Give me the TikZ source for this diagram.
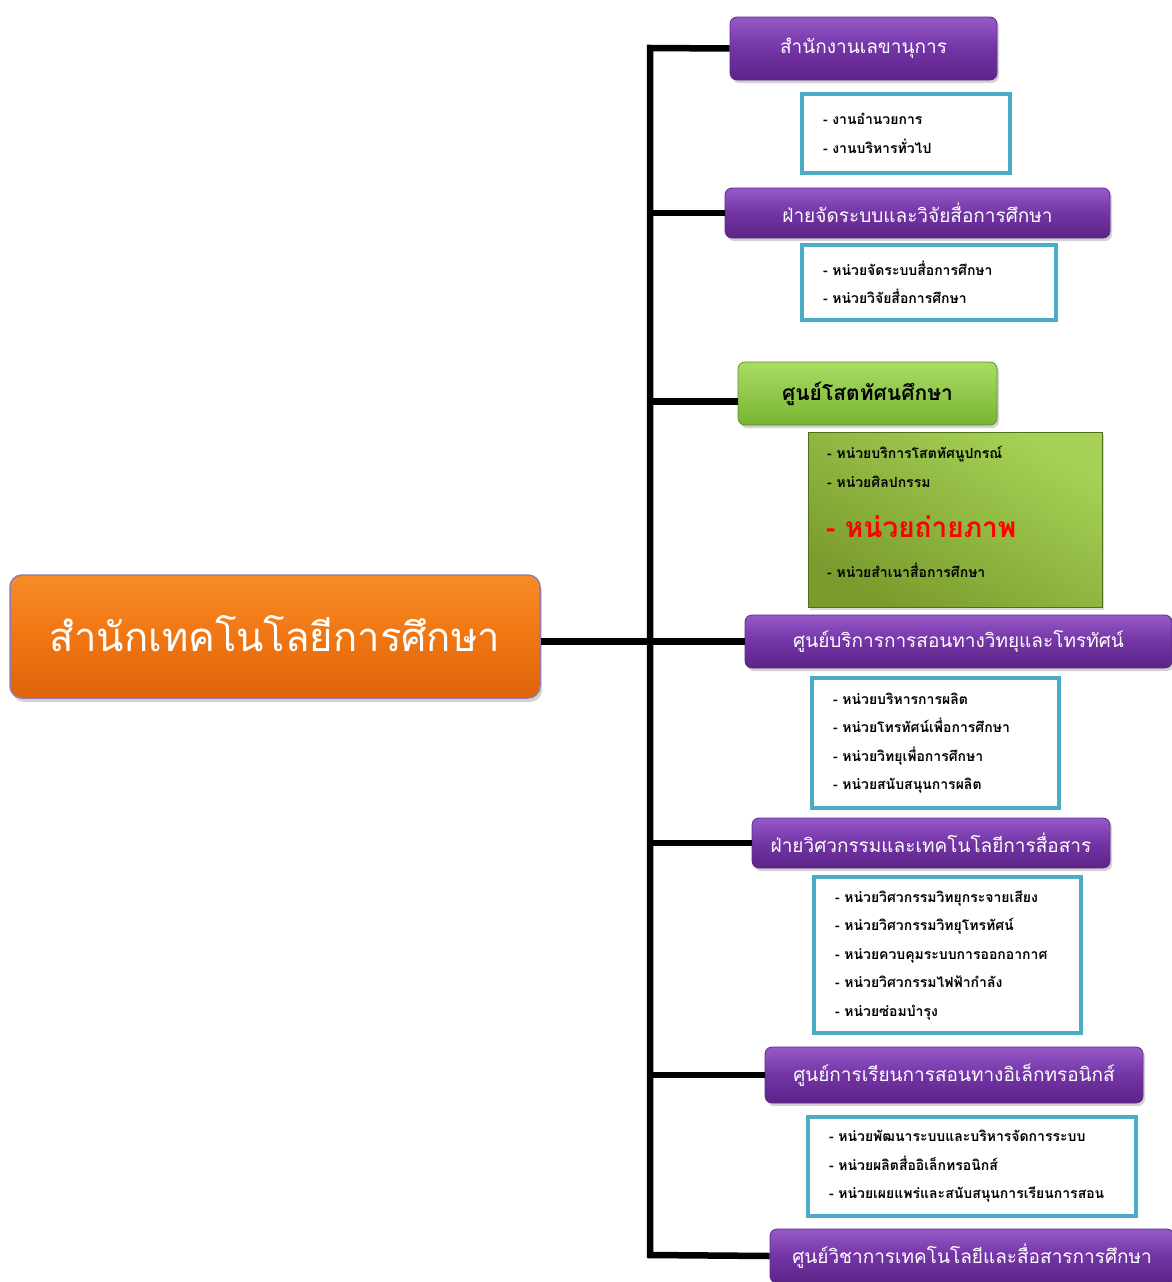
\documentclass[tikz,border=0pt]{standalone}
\usepackage{fontspec}
\newfontfamily\thai[Script=Thai]{Loma}
\usetikzlibrary{shadows}
\definecolor{ptop}{RGB}{150,90,200}
\definecolor{pmid}{RGB}{115,52,165}
\definecolor{pbot}{RGB}{92,36,135}
\definecolor{pedge}{RGB}{95,40,140}
\definecolor{otop}{RGB}{246,140,40}
\definecolor{omid}{RGB}{240,118,18}
\definecolor{obot}{RGB}{222,100,10}
\definecolor{oedge}{RGB}{150,120,170}
\definecolor{gtop}{RGB}{170,220,100}
\definecolor{gbot}{RGB}{120,180,50}
\definecolor{gdark}{RGB}{122,155,45}
\definecolor{glight}{RGB}{165,210,85}
\definecolor{tealb}{RGB}{75,172,198}
\tikzset{
  conn/.style={line width=6.5pt, black, line join=miter},
  dept/.style={rounded corners=7pt, draw=pedge, line width=0.8pt,
    top color=ptop, bottom color=pbot, middle color=pmid,
    drop shadow={opacity=0.35, shadow xshift=2pt, shadow yshift=-3pt},
    text=white, font=\thai\fontsize{19}{23}\selectfont, inner sep=0pt},
  greendept/.style={rounded corners=7pt, draw=gbot!80!black, line width=0.8pt,
    top color=gtop, bottom color=gbot,
    drop shadow={opacity=0.35, shadow xshift=2pt, shadow yshift=-3pt},
    text=black, font=\thai\bfseries\fontsize{21}{25}\selectfont, inner sep=0pt},
  mainbox/.style={rounded corners=12pt, draw=oedge, line width=1.5pt,
    top color=otop, bottom color=obot, middle color=omid,
    drop shadow={opacity=0.35, shadow xshift=2pt, shadow yshift=-4pt},
    text=white, font=\thai\fontsize{40}{46}\selectfont, inner sep=0pt},
  unitbox/.style={draw=tealb, line width=4pt, fill=white, align=left,
    inner xsep=21pt, inner ysep=0pt,
    font=\thai\bfseries\fontsize{14}{28.5}\selectfont},
  greenbox/.style={draw=gdark!70!black, line width=0.5pt,
    top color=glight, bottom color=gdark, shading angle=-30,
    drop shadow={opacity=0.3, shadow xshift=2pt, shadow yshift=-3pt}, inner sep=0pt},
  gline/.style={anchor=base west, inner sep=0pt, font=\thai\bfseries\fontsize{14}{17}\selectfont},
  gbig/.style={anchor=base west, inner sep=0pt, text=red, font=\thai\bfseries\fontsize{28}{32}\selectfont}
}
\begin{document}
\begin{tikzpicture}[x=1pt,y=-1pt]
\useasboundingbox (0,0) rectangle (1172,1282);
% trunk coordinates
\coordinate (ttop) at (650,48);
\coordinate (tbot) at (650,1255);
% main
\node[mainbox, minimum width=530, minimum height=123] (main) at (275,636.5) {\raisebox{7pt}{สำนักเทคโนโลยีการศึกษา}};
% departments
\node[dept, minimum width=267, minimum height=63] (n1) at (863.5,48.5) {สำนักงานเลขานุการ};
\node[dept, minimum width=385, minimum height=50] (n2) at (917.5,213) {ฝ่ายจัดระบบและวิจัยสื่อการศึกษา};
\node[greendept, minimum width=259, minimum height=63] (n3) at (867.5,393.5) {ศูนย์โสตทัศนศึกษา};
\node[dept, minimum width=427, minimum height=53] (n4) at (958.5,641.5) {ศูนย์บริการการสอนทางวิทยุและโทรทัศน์};
\node[dept, minimum width=358, minimum height=50] (n5) at (931,843) {ฝ่ายวิศวกรรมและเทคโนโลยีการสื่อสาร};
\node[dept, minimum width=378, minimum height=56] (n6) at (954,1075) {ศูนย์การเรียนการสอนทางอิเล็กทรอนิกส์};
\node[dept, minimum width=404, minimum height=54] (n7) at (972,1256) {ศูนย์วิชาการเทคโนโลยีและสื่อสารการศึกษา};
% unit boxes
\node[unitbox, text width=166, minimum height=79] (b1) at (906,133.5) {- งานอำนวยการ\\- งานบริหารทั่วไป};
\node[unitbox, text width=212, minimum height=75] (b2) at (929,282.5) {- หน่วยจัดระบบสื่อการศึกษา\\- หน่วยวิจัยสื่อการศึกษา};
\node[greenbox, minimum width=294, minimum height=175] (b3) at (955,519.5) {};
\node[gline] (g1) at (827,458) {- หน่วยบริการโสตทัศนูปกรณ์};
\node[gline] (g2) at (827,487) {- หน่วยศิลปกรรม};
\node[gbig] (g3) at (826,537) {- หน่วยถ่ายภาพ};
\node[gline] (g4) at (827,577) {- หน่วยสำเนาสื่อการศึกษา};
\node[unitbox, text width=205, minimum height=130] (b4) at (935.5,743) {- หน่วยบริหารการผลิต\\- หน่วยโทรทัศน์เพื่อการศึกษา\\- หน่วยวิทยุเพื่อการศึกษา\\- หน่วยสนับสนุนการผลิต};
\node[unitbox, text width=225, minimum height=156] (b5) at (947.5,955) {- หน่วยวิศวกรรมวิทยุกระจายเสียง\\- หน่วยวิศวกรรมวิทยุโทรทัศน์\\- หน่วยควบคุมระบบการออกอากาศ\\- หน่วยวิศวกรรมไฟฟ้ากำลัง\\- หน่วยซ่อมบำรุง};
\node[unitbox, text width=286, minimum height=99] (b6) at (972,1166.5) {- หน่วยพัฒนาระบบและบริหารจัดการระบบ\\- หน่วยผลิตสื่ออิเล็กทรอนิกส์\\- หน่วยเผยแพร่และสนับสนุนการเรียนการสอน};
% connectors
\draw[conn] (n1.west) -- (ttop) -- (tbot) -- (n7.west);
\draw[conn] (n2.west) -- (n2.west -| ttop);
\draw[conn] ([yshift=-8pt]n3.west) -- ([yshift=-8pt]n3.west -| ttop);
\draw[conn] (main.east |- n4.west) -- (n4.west);
\draw[conn] (n5.west) -- (n5.west -| ttop);
\draw[conn] (n6.west) -- (n6.west -| ttop);
\end{tikzpicture}
\end{document}
